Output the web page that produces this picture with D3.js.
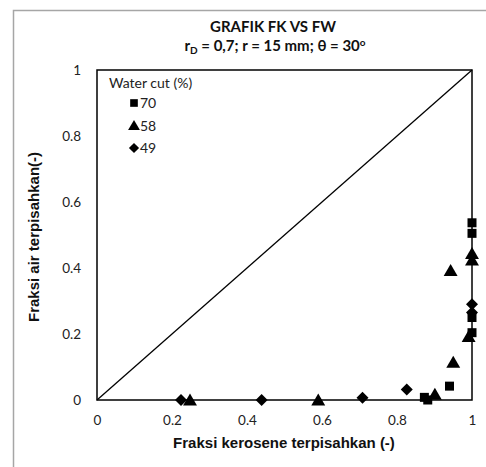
<!DOCTYPE html>
<html><head><meta charset="utf-8">
<script src="https://cdn.jsdelivr.net/npm/d3@7"></script>
<style>body{margin:0;background:#fff}svg{display:block}</style>
</head><body><svg id="c" width="486" height="467"></svg>
<script>
const xTicks = [0, 0.2, 0.4, 0.6, 0.8, 1];
const yTicks = [0, 0.2, 0.4, 0.6, 0.8, 1];
const seriesNames = ["70", "58", "49"];
const wc70 = [[1.0,0.537],[1.0,0.505],[1.0,0.25],[1.0,0.204],[0.873,0.008],[0.882,0.0],[0.94,0.042]];
const wc58 = [[0.248,0.0],[0.59,0.0],[0.901,0.017],[0.95,0.114],[0.943,0.392],[1.0,0.444],[1.0,0.424],[0.991,0.192]];
const wc49 = [[0.224,0.0],[0.439,0.0],[0.708,0.007],[0.826,0.032],[1.0,0.29],[1.0,0.265]];

const LATO = "Lato,'Open Sans',sans-serif";
const ARIAL = "'Liberation Sans',Arial,sans-serif";
const svg = d3.select("#c");
svg.append("path").attr("d","M13.5,500 V10.5 H500").attr("fill","none").attr("stroke","#a6a6a6").attr("stroke-width",1.5);

const x = d3.scaleLinear().domain([0,1]).range([97,472]);
const y = d3.scaleLinear().domain([0,1]).range([400,70]);

const xa = svg.append("g").attr("transform","translate(0,400)").call(d3.axisBottom(x).tickValues(xTicks).tickSize(0).tickPadding(15).tickFormat(d3.format("")));
xa.select(".domain").remove();
xa.selectAll("text").style("font-size","13.5px").style("font-family",LATO).attr("fill","#222");
const ya = svg.append("g").attr("transform","translate(97,0)").call(d3.axisLeft(y).tickValues(yTicks).tickSize(0).tickPadding(16).tickFormat(d3.format("")));
ya.select(".domain").remove();
ya.selectAll("text").style("font-size","13.5px").style("font-family",LATO).attr("fill","#222");

svg.append("line").attr("x1",x(0)).attr("y1",y(0)).attr("x2",x(1)).attr("y2",y(1)).attr("stroke","#000").attr("stroke-width",1.3);
svg.append("rect").attr("x",x(0)).attr("y",y(1)).attr("width",x(1)-x(0)).attr("height",y(0)-y(1)).attr("fill","none").attr("stroke","#000").attr("stroke-width",1.5);

const shape = [
  s => `M${-s/2},${-s/2}H${s/2}V${s/2}H${-s/2}Z`,
  s => `M0,${-s*0.55}L${s*0.58},${s*0.45}L${-s*0.58},${s*0.45}Z`,
  s => `M0,${-s*0.6}L${s*0.6},0L0,${s*0.6}L${-s*0.6},0Z`
];
const sizes = [9, 12, 10];
const data = [wc70, wc58, wc49];
data.forEach((s,i)=>{
  svg.append("g").selectAll("path").data(s).join("path")
    .attr("transform",d=>`translate(${x(d[0])},${y(d[1])})`)
    .attr("d",shape[i](sizes[i]))
    .attr("fill","#000");
});

svg.append("text").attr("x",109).attr("y",88).style("font-size","14px").style("font-family",LATO).attr("fill","#222").text("Water cut (%)");
seriesNames.forEach((n,i)=>{
  const yy = 103 + i*22.5;
  svg.append("path").attr("transform",`translate(134,${yy})`).attr("d",shape[i](sizes[i]*0.85)).attr("fill","#000");
  svg.append("text").attr("x",140).attr("y",yy+5).style("font-size","14px").style("font-family",LATO).attr("fill","#222").text(n);
});

svg.append("text").attr("x",273).attr("y",32).attr("text-anchor","middle").style("font-size","15px").style("font-family",LATO).attr("font-weight","bold").attr("fill","#111").text("GRAFIK FK VS FW");
const t2 = svg.append("text").attr("x",275).attr("y",51).attr("text-anchor","middle").style("font-size","15px").style("font-family",LATO).attr("font-weight","bold").attr("fill","#111");
t2.append("tspan").text("r");
t2.append("tspan").style("font-size","10px").attr("dy",3).text("D");
t2.append("tspan").attr("dy",-3).text(" = 0,7; r = 15 mm; θ = 30");
t2.append("tspan").style("font-size","10px").attr("dy",-5).text("o");

svg.append("text").attr("x",284).attr("y",448).attr("text-anchor","middle").style("font-size","15px").style("font-family",ARIAL).attr("font-weight","bold").attr("fill","#111").text("Fraksi kerosene terpisahkan (-)");
svg.append("text").attr("transform","translate(39,237) rotate(-90)").attr("text-anchor","middle").style("font-size","15px").style("font-family",ARIAL).attr("font-weight","bold").attr("fill","#111").text("Fraksi air terpisahkan(-)");
</script></body></html>
